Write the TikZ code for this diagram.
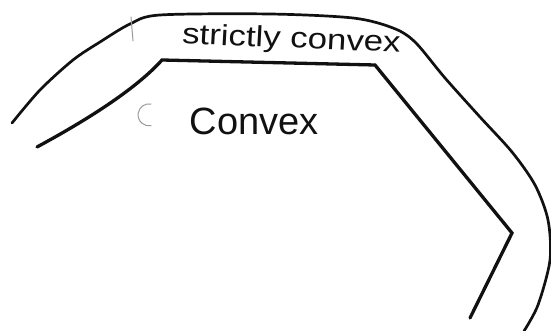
\documentclass[tikz,border=0pt]{standalone}
\usepackage{fontspec}
\setmainfont{Liberation Sans}
\usepackage{tikz}
\usetikzlibrary{positioning, calc}
\definecolor{sketchink}{HTML}{111111}
\definecolor{sketchfaint}{HTML}{9A9A9A}

\begin{document}
\begin{tikzpicture}[
  x=1pt, y=-1pt,
  every node/.style={inner sep=0pt, color=sketchink},
  curve/.style={draw=sketchink, line width=2.7pt, line cap=round, line join=round},
  hull/.style={draw=sketchink, line width=3.3pt, line cap=round, line join=miter},
  faint/.style={draw=sketchfaint, line width=1pt, line cap=round},
  bigword/.style={font=\fontsize{38}{38}\selectfont, anchor=base},
  smallword/.style={font=\fontsize{29}{29}\selectfont, anchor=base, xscale=1.2}
]
\useasboundingbox (0,0) rectangle (551,331);

% Outer curve (strictly convex)
\draw[curve] plot[smooth, tension=0.5] coordinates {
  (12,123) (40,90) (73,60) (100,42) (130,24) (160,15) (270,14) (353,18)
  (393,28) (415,42) (445,78) (480,117) (512,152) (535,185) (548,220)
  (550,260) (538,305) (524,331)};

% Inner polygon (convex)
\draw[hull] (37,147) .. controls (85,121) and (135,90) .. (162,60)
  -- (375,65) -- (512,233) -- (470,318);

% Labels
\node[smallword, rotate=-2.6] (strict) at (291,48) {strictly convex};
\node[bigword] (conv) at (254,135) {Convex};

% Stray pencil marks
\draw[faint] (151,104) arc[start angle=80, end angle=280, radius=11pt];
\draw[faint] (131,17) -- (133,41);

\end{tikzpicture}
\end{document}
